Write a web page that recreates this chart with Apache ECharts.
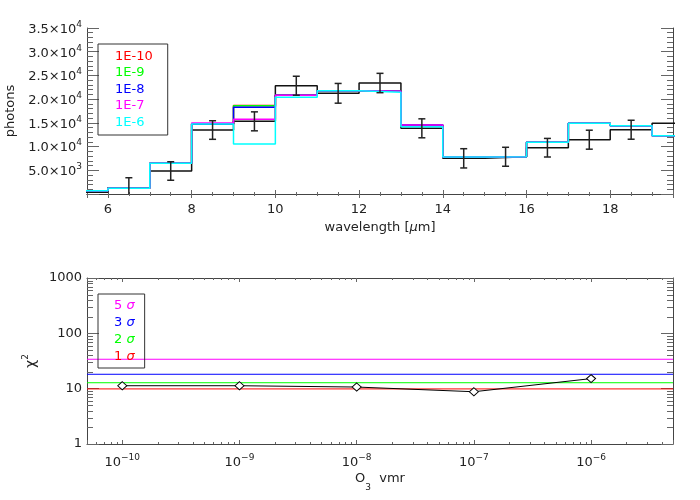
<!DOCTYPE html>
<html><head><meta charset="utf-8">
<script src="https://cdn.jsdelivr.net/npm/echarts@6/dist/echarts.min.js"></script>
<style>html,body{margin:0;padding:0;background:#fff}#c{width:700px;height:500px}</style>
</head><body><div id="c"></div>
<script>
// ---------------- data ----------------
var binEdges = [5,6,7,8,9,10,11,12,13,14,15,16,17,18,19,20];
var observed = [360,1330,4850,13490,15320,22830,21230,23400,13850,7520,7850,9760,11450,13550,14900];
var errValues = [2100,1950,1960,2000,2000,2080,2040,2000,2030,2000,1960,2000,2000]; // bins 6-7 .. 18-19
var modelNames = ['1E-10','1E-9','1E-8','1E-7','1E-6'];
var model_1e10 = [700,1200,6470,14760,18650,20810,21780,21650,14550,7800,7870,10900,14900,14400,12290];
var model_1e9  = [700,1200,6470,14760,18610,20810,21780,21650,14550,7800,7870,10900,14900,14400,12290];
var model_1e8  = [700,1200,6470,14760,18280,20810,21780,21650,14550,7800,7870,10900,14900,14400,12290];
var model_1e7  = [700,1200,6470,14970,15750,20810,21780,21650,14550,7800,7870,10900,14900,14400,12290];
var model_1e6  = [700,1200,6470,14760,10540,20380,21780,21440,14190,7800,7870,10900,14900,14400,12290];
var modelColors = ['#ff0000','#00ff00','#0000ff','#ff00ff','#00ffff'];

var vmr = [1e-10,1e-9,1e-8,1e-7,1e-6];
var chi2 = [11.3,11.3,10.7,8.8,15.2];
var sigmaNames = ['5 σ','3 σ','2 σ','1 σ'];
var sigmaLevels = [34,18.2,12.8,9.9];
var sigmaColors = ['#ff00ff','#0000ff','#00ff00','#ff0000'];

// axis ranges
var vmrMin = 5e-11, vmrMax = 5e-6;

// log-axis minor tick positions (2..9 per decade)
var minorMult = [2,3,4,5,6,7,8,9];
var xDecades = [1e-11,1e-10,1e-9,1e-8,1e-7,1e-6];
var yDecades = [1,10,100];

// ---------------- helpers ----------------
var F = 'DejaVu Sans';
var TXT = '#222', AX = '#444', TK = '#666';
function stepData(vals){ return binEdges.map(function(e,i){ return [e, vals[Math.min(i, vals.length-1)]]; }); }
var errData = errValues.map(function(e,i){ return [binEdges[i+1]+0.5, observed[i+1], e]; });
var modelData = [model_1e10, model_1e9, model_1e8, model_1e7, model_1e6];

var logTickData = [];
xDecades.forEach(function(d){ minorMult.forEach(function(m){ var v=d*m; if (v>vmrMin && v<vmrMax) logTickData.push([v,10,1]); }); });
yDecades.forEach(function(d){ minorMult.forEach(function(m){ logTickData.push([1e-8,d*m,0]); }); });

function supLabel(base, exp){ return '{b|'+base+'}{s|'+exp+'}'; }
var richSup = {
  b:{fontFamily:F,fontSize:13,color:TXT,padding:[3,0,0,0]},
  s:{fontFamily:F,fontSize:9,color:TXT,verticalAlign:'top'}
};

function renderErr(params, api){
  var x=api.value(0), y=api.value(1), e=api.value(2);
  var t=api.coord([x,y+e]), b=api.coord([x,y-e]);
  var hw=3.5, st={stroke:'#222',lineWidth:1.5};
  return {type:'group',children:[
    {type:'line',shape:{x1:t[0],y1:t[1],x2:b[0],y2:b[1]},style:st},
    {type:'line',shape:{x1:t[0]-hw,y1:t[1],x2:t[0]+hw,y2:t[1]},style:st},
    {type:'line',shape:{x1:b[0]-hw,y1:b[1],x2:b[0]+hw,y2:b[1]},style:st}
  ]};
}
function renderLogTicks(params, api){
  var cs=params.coordSys, st={stroke:TK,lineWidth:1};
  if (api.value(2)===0){
    var p=api.coord([1e-8, api.value(1)]); var y=Math.round(p[1])+0.5;
    return {type:'group',children:[
      {type:'line',shape:{x1:cs.x,y1:y,x2:cs.x+6,y2:y},style:st},
      {type:'line',shape:{x1:cs.x+cs.width-6,y1:y,x2:cs.x+cs.width,y2:y},style:st}]};
  } else {
    var q=api.coord([api.value(0),10]); var x=Math.round(q[0])+0.5;
    return {type:'group',children:[
      {type:'line',shape:{x1:x,y1:cs.y+cs.height,x2:x,y2:cs.y+cs.height-2},style:st},
      {type:'line',shape:{x1:x,y1:cs.y,x2:x,y2:cs.y+2},style:st}]};
  }
}

function valAxisX(pos, showLab){
  return {gridIndex:0,type:'value',position:pos,min:5.5,max:19.5,splitNumber:7,
    axisLine:{show:true,lineStyle:{color:AX,width:1}},
    axisTick:{show:true,inside:true,length:4,lineStyle:{color:TK}},
    minorTick:{show:true,splitNumber:4,length:2,lineStyle:{color:TK}},
    splitLine:{show:false},
    axisLabel:{show:showLab,color:TXT,fontFamily:F,fontSize:13,margin:9,
      formatter:function(v){ return (Math.abs(v-Math.round(v))<1e-9)? String(Math.round(v)) : ''; }}
  };
}
function valAxisY(pos, showLab){
  return {gridIndex:0,type:'value',position:pos,min:0,max:35000,interval:5000,
    axisLine:{show:true,lineStyle:{color:AX,width:1}},
    axisTick:{show:true,inside:true,length:12,lineStyle:{color:TK}},
    minorTick:{show:true,splitNumber:5,length:6,lineStyle:{color:TK}},
    splitLine:{show:false},
    axisLabel:{show:showLab,margin:5,rich:richSup,
      formatter:function(v){ if(v===0) return ''; var e=Math.floor(Math.log10(v)+1e-9); return supLabel((v/Math.pow(10,e)).toFixed(1)+'×10', e); }}
  };
}
function logAxisX(pos, showLab){
  return {gridIndex:1,type:'log',logBase:10,position:pos,min:vmrMin,max:vmrMax,
    axisLine:{show:true,lineStyle:{color:AX,width:1}},
    axisTick:{show:true,inside:true,length:4,lineStyle:{color:TK}},
    minorTick:{show:false}, splitLine:{show:false},
    axisLabel:{show:showLab,margin:9,rich:richSup,
      formatter:function(v){ var l=Math.log10(v), e=Math.round(l); if(Math.abs(l-e)>1e-6) return ''; return supLabel('10', (e<0?'−':'')+Math.abs(e)); }}
  };
}
function logAxisY(pos, showLab){
  return {gridIndex:1,type:'log',logBase:10,position:pos,min:1,max:1000,
    axisLine:{show:true,lineStyle:{color:AX,width:1}},
    axisTick:{show:true,inside:true,length:12,lineStyle:{color:TK}},
    minorTick:{show:false}, splitLine:{show:false},
    axisLabel:{show:showLab,margin:5,color:TXT,fontFamily:F,fontSize:13,
      formatter:function(v){ var l=Math.log10(v), e=Math.round(l); if(Math.abs(l-e)>1e-6) return ''; return String(Math.round(v)); }}
  };
}

var xA0 = valAxisX('bottom', true);
xA0.name = 'wavelength [{i|μ}m]'; xA0.nameLocation='middle'; xA0.nameGap=27;
xA0.nameTextStyle = {fontFamily:F,fontSize:13,color:TXT,rich:{i:{fontFamily:F,fontSize:13,color:TXT,fontStyle:'italic'}}};
var yA0 = valAxisY('left', true);
yA0.name='photons'; yA0.nameLocation='middle'; yA0.nameGap=70; yA0.nameRotate=90;
yA0.nameTextStyle={fontFamily:F,fontSize:13,color:TXT};
var xA2 = logAxisX('bottom', true);
xA2.name='{b|O}{u|3}{b|  vmr}'; xA2.nameLocation='middle'; xA2.nameGap=28;
xA2.nameTextStyle={fontFamily:F,fontSize:13,color:TXT,rich:{
  b:{fontFamily:F,fontSize:13,color:TXT,padding:[0,0,7,0]},
  u:{fontFamily:F,fontSize:9,color:TXT,verticalAlign:'bottom'}}};
var yA2 = logAxisY('left', true);
yA2.name='{b|χ}{s|2}'; yA2.nameLocation='middle'; yA2.nameGap=41; yA2.nameRotate=90;
yA2.nameTextStyle={fontFamily:F,fontSize:13,color:TXT,rich:{
  b:{fontFamily:F,fontSize:14,color:TXT,padding:[3,0,0,0]},
  s:{fontFamily:F,fontSize:9,color:TXT,verticalAlign:'top'}}};

var series = [];
series.push({name:'observed',type:'line',xAxisIndex:0,yAxisIndex:0,step:'end',data:stepData(observed),
  showSymbol:false,lineStyle:{color:'#111',width:1.5},itemStyle:{color:'#111'},z:2});
modelData.forEach(function(d,i){
  series.push({name:modelNames[i],type:'line',xAxisIndex:0,yAxisIndex:0,step:'end',data:stepData(d),
    showSymbol:false,lineStyle:{color:modelColors[i],width:1.5},itemStyle:{color:modelColors[i]},z:3});
});
series.push({name:'errors',type:'custom',xAxisIndex:0,yAxisIndex:0,data:errData,renderItem:renderErr,clip:true,z:4});

sigmaNames.forEach(function(n,i){
  series.push({name:n,type:'line',xAxisIndex:2,yAxisIndex:2,
    data:[[vmrMin,sigmaLevels[i]],[vmrMax,sigmaLevels[i]]],showSymbol:false,symbol:'none',
    lineStyle:{color:sigmaColors[i],width:1},itemStyle:{color:sigmaColors[i]},z:3});
});
series.push({name:'chi2',type:'line',xAxisIndex:2,yAxisIndex:2,data:vmr.map(function(v,i){return [v,chi2[i]];}),
  symbol:'diamond',symbolSize:[9,8],showAllSymbol:true,
  lineStyle:{color:'#000',width:1},itemStyle:{color:'#fff',borderColor:'#000',borderWidth:1},z:5});
series.push({name:'logticks',type:'custom',xAxisIndex:2,yAxisIndex:2,data:logTickData,renderItem:renderLogTicks,silent:true,z:1});

var option = {
  animation:false,
  backgroundColor:'#fff',
  textStyle:{fontFamily:F},
  grid:[{left:87,top:28,width:586,height:166,containLabel:false,outerBoundsMode:'none'},
        {left:87,top:278,width:586,height:166,containLabel:false,outerBoundsMode:'none'}],
  xAxis:[xA0, valAxisX('top',false), xA2, logAxisX('top',false)],
  yAxis:[yA0, valAxisY('right',false), yA2, logAxisY('right',false)],
  legend:[
    {data:modelNames.map(function(n,i){return {name:n,icon:'rect',textStyle:{color:modelColors[i]}};}),
     orient:'vertical',left:98,top:44,itemWidth:1,itemHeight:12,itemGap:3.5,padding:[6,15,6,11],
     itemStyle:{opacity:0},lineStyle:{opacity:0},
     borderColor:'#333',borderWidth:1,selectedMode:false,
     textStyle:{fontFamily:F,fontSize:13,lineHeight:12}},
    {data:sigmaNames.map(function(n,i){return {name:n,icon:'rect',
        textStyle:{color:sigmaColors[i],rich:{i:{color:sigmaColors[i],fontStyle:'italic',fontFamily:F,fontSize:13}}}};}),
     orient:'vertical',left:98,top:294,itemWidth:1,itemHeight:12,itemGap:4,padding:[5,10,5,10],
     itemStyle:{opacity:0},lineStyle:{opacity:0},
     borderColor:'#333',borderWidth:1,selectedMode:false,
     formatter:function(n){ return n.replace('σ','{i|σ}'); },
     textStyle:{fontFamily:F,fontSize:13,lineHeight:12}}
  ],
  series:series
};
var chart = echarts.init(document.getElementById('c'), null, {renderer:'canvas'});
chart.setOption(option);
</script>
</body></html>
